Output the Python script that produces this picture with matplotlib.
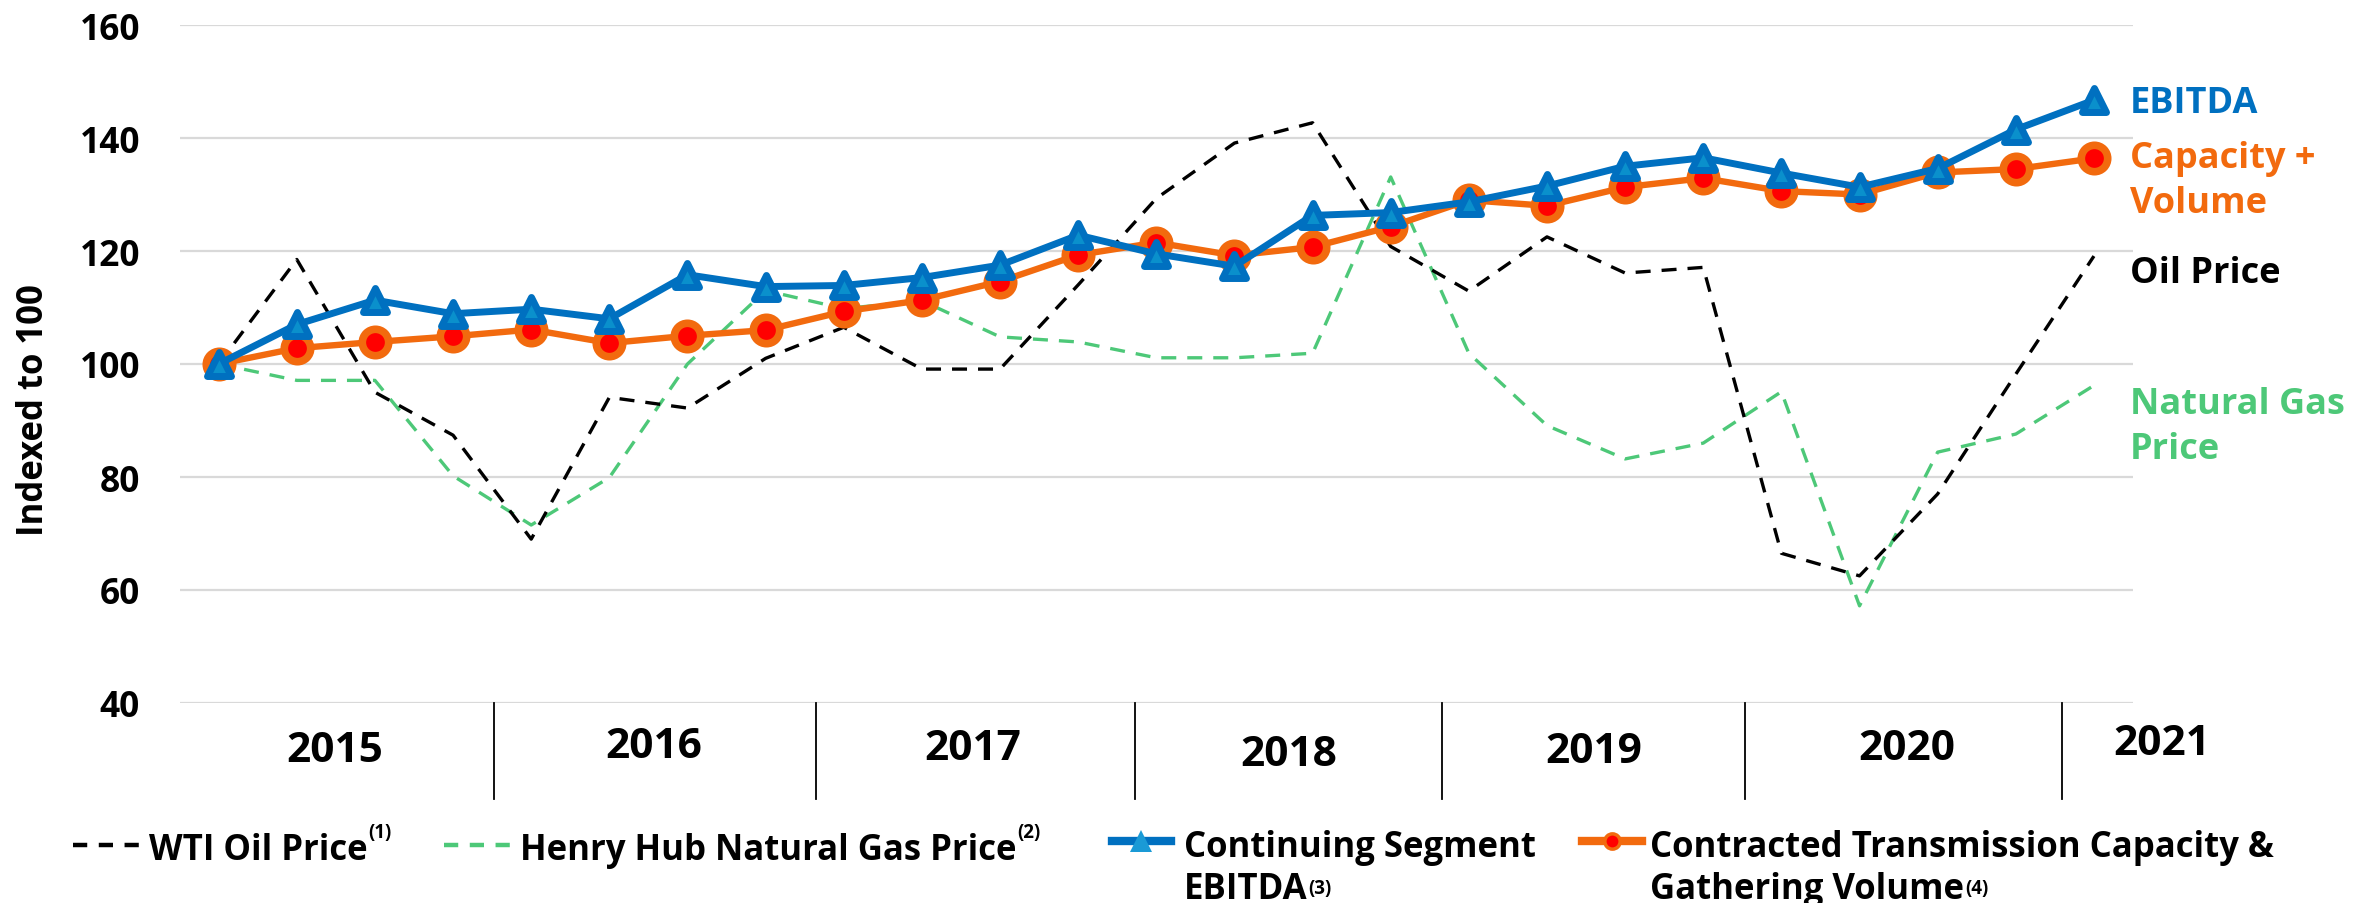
import matplotlib
matplotlib.use("Agg")
import matplotlib.pyplot as plt
import matplotlib.transforms as mtransforms
from matplotlib.lines import Line2D
from matplotlib.markers import MarkerStyle

# quarterly index values, 2015 Q1 .. 2021 Q1 (indexed to 100)
quarters = [f"{y} Q{q}" for y in range(2015, 2021) for q in range(1, 5)] + ["2021 Q1"]
ebitda = [100, 107.0, 111.3, 108.9, 109.7, 108.0, 115.8, 113.7,
          113.9, 115.3, 117.5, 122.8, 119.5, 117.3, 126.3, 126.8,
          128.7, 131.5, 135.0, 136.5, 133.8, 131.3, 134.6, 141.5, 146.7]
capacity = [100, 102.8, 103.9, 104.9, 106.1, 103.7, 105.0, 106.0,
            109.3, 111.3, 114.6, 119.3, 121.5, 119.2, 120.7, 124.3,
            129.0, 128.0, 131.3, 132.9, 130.6, 130.0, 133.9, 134.5, 136.4]
oil = [100, 118.5, 95.0, 87.4, 69.0, 94.1, 92.2, 101.0,
       106.5, 99.1, 99.1, 114.0, 129.3, 139.1, 142.7, 120.8,
       112.9, 122.5, 116.1, 117.1, 66.5, 62.5, 77.0, 98.2, 119.1]
gas = [100, 97.1, 97.1, 80.2, 71.5, 79.9, 100.0, 113.0,
       109.8, 111.2, 104.8, 103.9, 101.1, 101.1, 101.9, 133.1,
       101.9, 89.1, 83.2, 86.0, 95.1, 57.2, 84.4, 87.6, 96.2]

years = ["2015", "2016", "2017", "2018", "2019", "2020", "2021"]
y_ticks = [40, 60, 80, 100, 120, 140, 160]

year_label_x = [1.48, 5.57, 9.65, 13.7, 17.6, 21.6, 24.87]
year_label_y = [752, 748, 750, 755, 753, 750, 745]
separator_x = [3.52, 7.65, 11.73, 15.66, 19.54, 23.59]

BLUE = "#0070C0"
LIGHT_BLUE = "#0A90CC"
ORANGE = "#F26A0E"
RED = "#FF0000"
GREEN = "#4DC878"
GRID = "#D9D9D9"

W, H = 2358, 904

plt.rcParams["font.family"] = ["Open Sans", "DejaVu Sans"]
plt.rcParams["font.weight"] = "bold"


def fx(px):
    return px / W


def fy(py):
    return 1 - py / H


fig = plt.figure(figsize=(W / 100, H / 100), dpi=100)
ax = fig.add_axes([fx(179.6), fy(704), fx(2133) - fx(179.6), fy(26) - fy(704)])

x = list(range(len(quarters)))
ax.plot(x, gas, color=GREEN, lw=2.4, dashes=(4.5, 3.3), zorder=2)
ax.plot(x, oil, color="black", lw=2.4, dashes=(4.5, 3.3), zorder=3)
ax.plot(x, capacity, color=ORANGE, lw=4.6, marker="o", ms=19, mfc=RED,
        mec=ORANGE, mew=5.5, zorder=4)
ax.plot(x, ebitda, color=BLUE, lw=5, marker=MarkerStyle("^", joinstyle="round"),
        ms=17, mfc=LIGHT_BLUE, mec=BLUE, mew=5, zorder=5)

ax.set_xlim(-0.5, 24.5)
ax.set_ylim(40, 160)
ax.set_xticks([])
ax.set_yticks(y_ticks)
ax.tick_params(axis="y", length=0, pad=28.5, labelsize=25.5)
ax.yaxis.grid(True, color=GRID, lw=1.6)
ax.set_axisbelow(True)
for s in ax.spines.values():
    s.set_visible(False)

# year separators and labels under the axis
trans = mtransforms.blended_transform_factory(ax.transData, ax.transAxes)
year_trans = mtransforms.blended_transform_factory(ax.transData, fig.transFigure)
for sx in separator_x:
    ax.plot([sx, sx], [0, -0.1416], transform=trans, clip_on=False,
            color="black", lw=1.3)
for yr, lx, ly in zip(years, year_label_x, year_label_y):
    ax.text(lx, fy(ly), yr, transform=year_trans, ha="center", va="center",
            fontsize=30.5)

fig.text(fx(33.7), fy(410), "Indexed to 100", rotation=90, ha="center",
         va="center", fontsize=25)

# series names on the right
right = [("EBITDA", 113, BLUE), ("Capacity +", 168, ORANGE), ("Volume", 213, ORANGE),
         ("Oil Price", 283, "black"), ("Natural Gas", 414, GREEN), ("Price", 459, GREEN)]
for txt, by, col in right:
    fig.text(fx(2130), fy(by), txt, color=col, fontsize=26, va="baseline", ha="left")


# legend drawn by hand
def handle(x0, x1, y, **kw):
    fig.add_artist(Line2D([fx(x0), fx(x1)], [fy(y), fy(y)], transform=fig.transFigure, **kw))


handle(73, 145, 846, color="black", lw=3.2, dashes=(3.2, 2.6))
handle(444, 514, 846, color=GREEN, lw=3.2, dashes=(3.2, 2.6))
handle(1112, 1171, 842, color=BLUE, lw=6)
fig.add_artist(Line2D([fx(1141)], [fy(842)], transform=fig.transFigure, marker="^",
                      ms=16, mfc="#1A9AD6", mec="#1A9AD6", mew=0, lw=0))
handle(1582, 1642, 842, color=ORANGE, lw=6)
fig.add_artist(Line2D([fx(1612)], [fy(842)], transform=fig.transFigure, marker="o",
                      ms=11, mfc=RED, mec=ORANGE, mew=2.5, lw=0))

legend_texts = [("WTI Oil Price", 149, 860, "(1)", -22),
                ("Henry Hub Natural Gas Price", 520, 860, "(2)", -22),
                ("Continuing Segment", 1184, 857, None, 0),
                ("EBITDA", 1184, 899, "(3)", -5),
                ("Contracted Transmission Capacity &", 1650, 857, None, 0),
                ("Gathering Volume", 1650, 899, "(4)", -5)]
renderer = fig.canvas.get_renderer()
for txt, lx, by, note, rise in legend_texts:
    t = fig.text(fx(lx), fy(by), txt, fontsize=25, va="baseline", ha="left")
    if note:
        bb = t.get_window_extent(renderer)
        fig.text(fx(bb.x1 + 1), fy(by + rise), note, fontsize=13.5,
                 va="baseline", ha="left")

fig.savefig("out.png", dpi=100)
plt.close(fig)
